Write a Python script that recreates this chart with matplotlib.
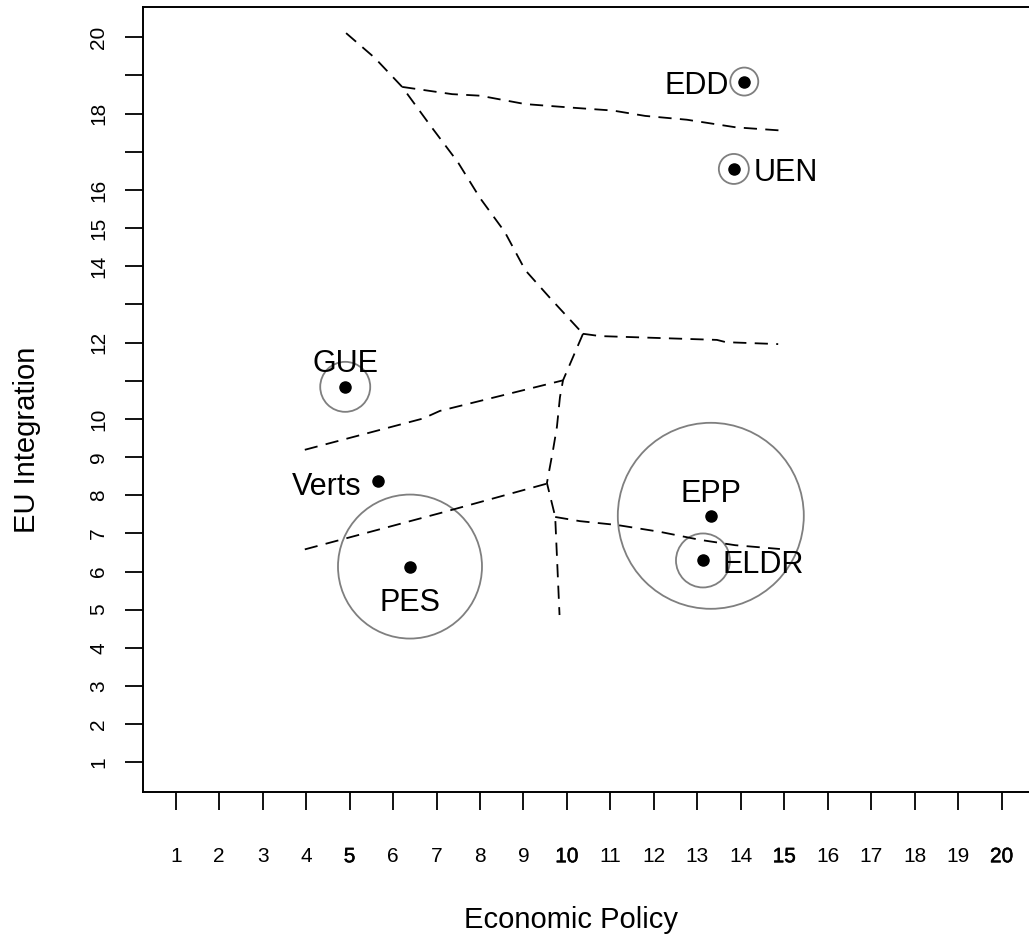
import matplotlib
matplotlib.use('Agg')
import matplotlib.pyplot as plt
import matplotlib.patheffects as pe

plt.rcParams['font.family'] = ['Liberation Sans', 'DejaVu Sans']
plt.rcParams['lines.scale_dashes'] = False

# party positions
parties = ['EDD', 'UEN', 'GUE', 'Verts', 'PES', 'EPP', 'ELDR']
econ = [14.08, 13.84, 4.90, 5.66, 6.39, 13.31, 13.13]
eu = [18.84, 16.55, 10.84, 8.38, 6.13, 7.46, 6.29]
# size of the grey circle round each party (radius, pixels)
circle_r = [14, 15, 25, 0, 72, 93, 27]

# dashed boundaries between the party areas
bound_a_x = [4.92, 5.58, 6.21, 6.85, 7.49, 8.00, 8.57, 9.04, 9.61, 10.37]
bound_a_y = [20.11, 19.46, 18.70, 17.70, 16.73, 15.79, 14.90, 13.90, 13.17, 12.23]
bound_b_x = [6.21, 7.36, 8.00, 9.04, 10.19, 11.06, 11.80, 12.76, 13.89, 15.02]
bound_b_y = [18.70, 18.51, 18.47, 18.25, 18.15, 18.08, 17.94, 17.84, 17.64, 17.55]
bound_c_x = [10.37, 10.76, 13.45, 13.66, 14.86]
bound_c_y = [12.23, 12.17, 12.07, 12.01, 11.96]
bound_d_x = [10.37, 9.91, 9.84, 9.77, 9.68, 9.54, 9.73, 9.83]
bound_d_y = [12.23, 11.01, 10.57, 9.79, 9.18, 8.32, 7.44, 4.86]
bound_e_x = [3.97, 6.69, 7.08, 9.91]
bound_e_y = [9.19, 10.01, 10.21, 11.01]
bound_f_x = [3.97, 7.08, 9.56]
bound_f_y = [6.58, 7.53, 8.31]
bound_g_x = [9.73, 10.30, 11.15, 12.14, 13.06, 13.87, 14.90]
bound_g_y = [7.43, 7.32, 7.22, 7.04, 6.83, 6.69, 6.59]

x_ticks = list(range(1, 21))
y_ticks = list(range(1, 21))
y_labels = ['1', '2', '3', '4', '5', '6', '7', '8', '9', '10', '', '12', '',
            '14', '15', '16', '', '18', '', '20']

# label offsets (pixels, right/down) and alignment
label_dx = [-15, 20, 0, -17, 0, 0, 20]
label_dy = [12, 12, -15, 14, 44, -14, 13]
label_ha = ['right', 'left', 'center', 'right', 'center', 'center', 'left']

fig = plt.figure(figsize=(10.29, 9.42), dpi=100)
ax = fig.add_axes([143/1029, 1 - 791.7/942, 1 - 143/1029, (791.7 - 7)/942])
ax.set_xlim(0.248, 20.63)
ax.set_ylim(0.23, 20.794)

for s in ['top', 'left', 'bottom']:
    ax.spines[s].set_linewidth(1.4)
ax.spines['right'].set_visible(False)

for bx, by in [(bound_a_x, bound_a_y), (bound_b_x, bound_b_y), (bound_c_x, bound_c_y),
               (bound_d_x, bound_d_y), (bound_e_x, bound_e_y), (bound_f_x, bound_f_y),
               (bound_g_x, bound_g_y)]:
    ax.plot(bx, by, color='black', lw=1.3, dashes=(9.5, 6))

sizes = [(2 * r * 0.72) ** 2 for r in circle_r]
ax.scatter(econ, eu, s=sizes, facecolors='none', edgecolors='#7f7f7f', linewidths=1.3)
ax.plot(econ, eu, 'o', color='black', ms=8)

for i, p in enumerate(parties):
    ax.annotate(p, (econ[i], eu[i]), xytext=(label_dx[i] * 0.72, -label_dy[i] * 0.72),
                textcoords='offset points', ha=label_ha[i], va='baseline', fontsize=22)

ax.set_xticks(x_ticks)
ax.set_xticklabels([str(t) for t in x_ticks])
ax.set_yticks(y_ticks)
ax.set_yticklabels(y_labels)
ax.tick_params(axis='x', length=13, width=1.3, pad=27, labelsize=15)
ax.tick_params(axis='y', length=13, width=1.3, pad=12, labelsize=15)
for lab in ax.get_yticklabels():
    lab.set_rotation(90)
    lab.set_va('center')
for lab in ax.get_xticklabels():
    if lab.get_text() in ['5', '10', '15', '20']:
        lab.set_path_effects([pe.withStroke(linewidth=0.35, foreground='black')])

fig.text(571/1029, 1 - 920/942, 'Economic Policy', fontsize=21, ha='center', va='center')
fig.text(27/1029, 1 - 440/942, 'EU Integration', fontsize=21, ha='center', va='center',
         rotation=90)

fig.savefig('out.png', dpi=100)
